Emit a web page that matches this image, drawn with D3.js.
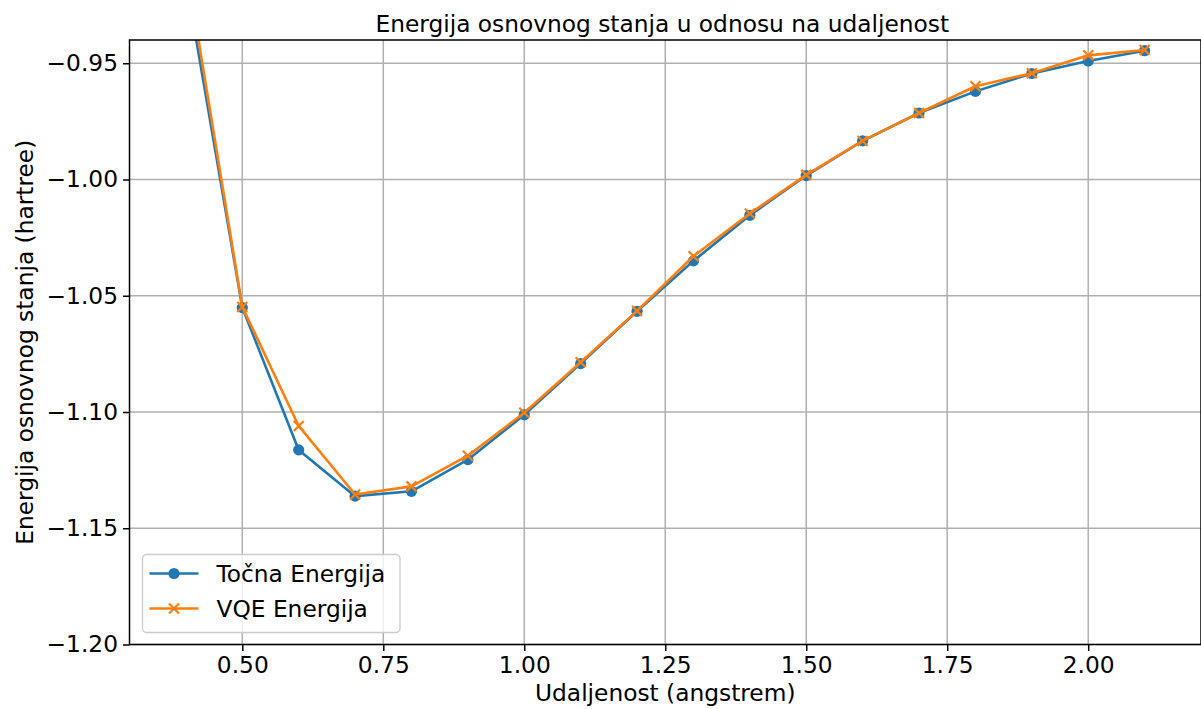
<!DOCTYPE html>
<html>
<head>
<meta charset="utf-8">
<script src="https://cdn.jsdelivr.net/npm/d3@7"></script>
<style>
body { margin: 0; background: #fff; }
svg { display: block; font-family: "DejaVu Sans", sans-serif; }
</style>
</head>
<body>
<script>
var W = 1201, H = 709;
var fs = 23.3;

// data
var distances = [0.4, 0.5, 0.6, 0.7, 0.8, 0.9, 1.0, 1.1, 1.2, 1.3, 1.4, 1.5, 1.6, 1.7, 1.8, 1.9, 2.0, 2.1];
var exactEnergy = [-0.9141, -1.0551, -1.1163, -1.1362, -1.1341, -1.1205, -1.1012, -1.0792, -1.0567, -1.0350,
                   -1.0154, -0.9983, -0.9834, -0.9714, -0.9621, -0.9544, -0.9490, -0.9446];
var vqeEnergy = [-0.9070, -1.0548, -1.1060, -1.1355, -1.1320, -1.1188, -1.1003, -1.0786, -1.0565, -1.0330,
                 -1.0146, -0.9980, -0.9834, -0.9714, -0.9599, -0.9543, -0.9466, -0.9443];
var xTicks = [0.50, 0.75, 1.00, 1.25, 1.50, 1.75, 2.00];
var yTicks = [-0.95, -1.00, -1.05, -1.10, -1.15, -1.20];
var seriesNames = ["Točna Energija", "VQE Energija"];
var colors = ["#1f77b4", "#ff7f0e"];

var m = {left: 129.5, right: 0, top: 40, bottom: 64.5};
var pw = W - m.left - m.right, ph = H - m.top - m.bottom;

var x = d3.scaleLinear().domain([0.3, 2.2]).range([0, pw]);
var y = d3.scaleLinear().domain([-1.2, -0.94]).range([ph, 0]);

var svg = d3.select("body").append("svg")
  .attr("width", W).attr("height", H);

var g = svg.append("g").attr("transform", "translate(" + m.left + "," + m.top + ")");

// grid
g.append("g").selectAll("line").data(xTicks).join("line")
  .attr("x1", d => x(d)).attr("x2", d => x(d))
  .attr("y1", 0).attr("y2", ph)
  .attr("stroke", "#b0b0b0").attr("stroke-width", 1.5);
g.append("g").selectAll("line").data(yTicks).join("line")
  .attr("x1", 0).attr("x2", pw)
  .attr("y1", d => y(d)).attr("y2", d => y(d))
  .attr("stroke", "#b0b0b0").attr("stroke-width", 1.5);

// axes
var xAxis = d3.axisBottom(x).tickValues(xTicks).tickFormat(d3.format(".2f"))
  .tickSizeInner(6.5).tickSizeOuter(0).tickPadding(5);
var yAxis = d3.axisLeft(y).tickValues(yTicks)
  .tickFormat(d => d3.format(".2f")(d).replace("-", "\u2212"))
  .tickSizeInner(6.5).tickSizeOuter(0).tickPadding(5);

var gx = g.append("g").attr("transform", "translate(0," + ph + ")").call(xAxis);
var gy = g.append("g").call(yAxis);
[gx, gy].forEach(function(a) {
  a.select(".domain").remove();
  a.selectAll("line").attr("stroke", "#000").attr("stroke-width", 1.5);
  a.selectAll("text").attr("font-size", fs).attr("fill", "#000")
    .attr("font-family", "DejaVu Sans");
});

// clipped plot lines
svg.append("defs").append("clipPath").attr("id", "clip")
  .append("rect").attr("width", pw).attr("height", ph);

var plot = g.append("g").attr("clip-path", "url(#clip)");
var line = d3.line().x(d => x(d[0])).y(d => y(d[1]));

var exactPts = distances.map((d, i) => [d, exactEnergy[i]]);
var vqePts = distances.map((d, i) => [d, vqeEnergy[i]]);

plot.append("path").datum(exactPts).attr("d", line)
  .attr("fill", "none").attr("stroke", colors[0]).attr("stroke-width", 2.6)
  .attr("stroke-linejoin", "round");
plot.selectAll(".dot").data(exactPts).join("circle").attr("class", "dot")
  .attr("cx", d => x(d[0])).attr("cy", d => y(d[1])).attr("r", 5.6)
  .attr("fill", colors[0]);

plot.append("path").datum(vqePts).attr("d", line)
  .attr("fill", "none").attr("stroke", colors[1]).attr("stroke-width", 2.6)
  .attr("stroke-linejoin", "round");
var cross = "M-5,-5L5,5M-5,5L5,-5";
plot.selectAll(".xm").data(vqePts).join("path").attr("class", "xm")
  .attr("transform", d => "translate(" + x(d[0]) + "," + y(d[1]) + ")")
  .attr("d", cross).attr("stroke", colors[1]).attr("stroke-width", 2.2).attr("fill", "none");

// spines
g.append("rect").attr("width", pw).attr("height", ph)
  .attr("fill", "none").attr("stroke", "#000").attr("stroke-width", 1.5);

// title & labels
svg.append("text").attr("x", m.left + pw / 2 - 3).attr("y", 31.5)
  .attr("text-anchor", "middle").attr("font-size", fs).attr("fill", "#000")
  .text("Energija osnovnog stanja u odnosu na udaljenost");
svg.append("text").attr("x", m.left + pw / 2).attr("y", 701)
  .attr("text-anchor", "middle").attr("font-size", fs).attr("fill", "#000")
  .text("Udaljenost (angstrem)");
svg.append("text")
  .attr("transform", "translate(32.5," + (m.top + ph / 2) + ") rotate(-90)")
  .attr("text-anchor", "middle").attr("font-size", fs).attr("fill", "#000")
  .text("Energija osnovnog stanja (hartree)");

// legend
var lg = svg.append("g").attr("transform", "translate(142.5,554.5)");
lg.append("rect").attr("width", 257.5).attr("height", 78).attr("rx", 4)
  .attr("fill", "#fff").attr("fill-opacity", 0.8)
  .attr("stroke", "#cccccc").attr("stroke-width", 1.4);
seriesNames.forEach(function(name, i) {
  var cy = 19 + i * 35;
  lg.append("line").attr("x1", 7).attr("x2", 56).attr("y1", cy).attr("y2", cy)
    .attr("stroke", colors[i]).attr("stroke-width", 2.6);
  if (i === 0) {
    lg.append("circle").attr("cx", 31.5).attr("cy", cy).attr("r", 5.6).attr("fill", colors[0]);
  } else {
    lg.append("path").attr("transform", "translate(31.5," + cy + ")")
      .attr("d", cross).attr("stroke", colors[1]).attr("stroke-width", 2.2);
  }
  lg.append("text").attr("x", 74).attr("y", cy + 8.5)
    .attr("font-size", fs).attr("fill", "#000").text(name);
});
</script>
</body>
</html>
